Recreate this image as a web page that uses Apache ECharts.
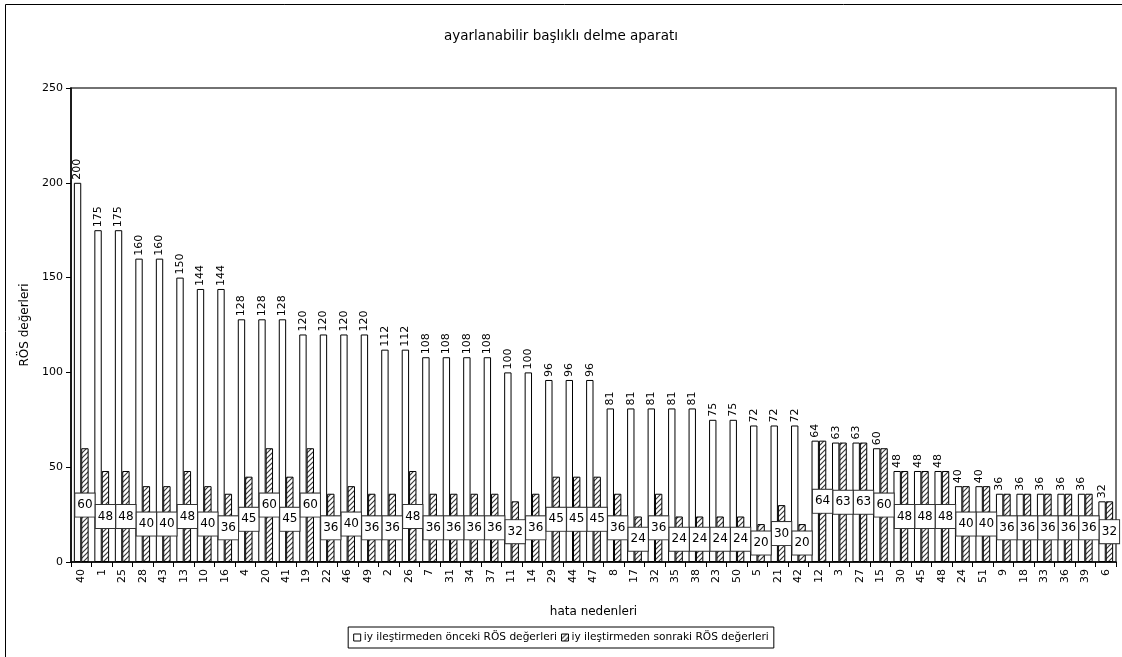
<!DOCTYPE html>
<html>
<head>
<meta charset="utf-8">
<title>ayarlanabilir başlıklı delme aparatı</title>
<script src="https://cdn.jsdelivr.net/npm/echarts@6/dist/echarts.min.js"></script>
<style>
  html, body { margin: 0; padding: 0; background: #fff; }
  #chart { width: 1122px; height: 657px; }
</style>
</head>
<body>
<div id="chart"></div>
<script>
// failure causes (hata nedenleri), sorted by RPN before improvement
const categories = ['40','1','25','28','43','13','10','16','4','20','41','19','22','46','49','2','26','7','31','34','37','11','14','29','44','47','8','17','32','35','38','23','50','5','21','42','12','3','27','15','30','45','48','24','51','9','18','33','36','39','6'];

// RÖS values before improvement
const before = [200,175,175,160,160,150,144,144,128,128,128,120,120,120,120,112,112,108,108,108,108,100,100,96,96,96,81,81,81,81,81,75,75,72,72,72,64,63,63,60,48,48,48,40,40,36,36,36,36,36,32];

// RÖS values after improvement
const after = [60,48,48,40,40,48,40,36,45,60,45,60,36,40,36,36,48,36,36,36,36,32,36,45,45,45,36,24,36,24,24,24,24,20,30,20,64,63,63,60,48,48,48,40,40,36,36,36,36,36,32];

const yTicks = { min: 0, max: 250, step: 50 };

const seriesNames = ['iy ileştirmeden önceki RÖS değerleri', 'iy ileştirmeden sonraki RÖS değerleri'];

const FONT = 'DejaVu Sans';

// diagonal hatch fill for the "after" bars
function makeHatch() {
  const s = 5;
  const c = document.createElement('canvas');
  c.width = s; c.height = s;
  const g = c.getContext('2d');
  g.fillStyle = '#fff';
  g.fillRect(0, 0, s, s);
  g.strokeStyle = '#3a3a3a';
  g.lineWidth = 1.2;
  g.beginPath();
  g.moveTo(-1, s + 1); g.lineTo(s + 1, -1);
  g.moveTo(-1, 1); g.lineTo(1, -1);
  g.moveTo(s - 1, s + 1); g.lineTo(s + 1, s - 1);
  g.stroke();
  return c;
}

const chart = echarts.init(document.getElementById('chart'), null, { renderer: 'canvas' });

chart.setOption({
  animation: false,
  backgroundColor: '#fff',
  textStyle: { fontFamily: FONT, color: '#000' },
  graphic: [{
    type: 'rect',
    shape: { x: 5.5, y: 4.5, width: 1300, height: 900 },
    style: { fill: 'none', stroke: '#000', lineWidth: 1 },
    silent: true
  }],
  title: {
    text: 'ayarlanabilir başlıklı delme aparatı',
    left: 'center',
    top: 24,
    textStyle: { fontFamily: FONT, fontSize: 13.5, fontWeight: 'normal', color: '#000' }
  },
  legend: {
    bottom: 9,
    left: 'center',
    icon: 'rect',
    itemWidth: 7,
    itemHeight: 7,
    itemGap: 4,
    padding: [5, 5],
    borderColor: '#000',
    borderWidth: 1,
    textStyle: { fontFamily: FONT, fontSize: 10.6, color: '#000', padding: [0, 0, 0, -2] },
    data: [
      { name: seriesNames[0], itemStyle: { borderColor: '#000', borderWidth: 1 } },
      { name: seriesNames[1], itemStyle: { borderColor: '#000', borderWidth: 1 } }
    ]
  },
  grid: {
    left: 71,
    right: 6,
    top: 88,
    bottom: 95,
    show: true,
    borderColor: '#444',
    borderWidth: 1.5,
    backgroundColor: 'transparent'
  },
  xAxis: {
    type: 'category',
    data: categories,
    name: 'hata nedenleri',
    nameLocation: 'middle',
    nameGap: 44,
    nameTextStyle: { fontFamily: FONT, fontSize: 12, color: '#000' },
    axisLine: { lineStyle: { color: '#000', width: 1.5 } },
    axisTick: { show: true, interval: 0, length: 5, lineStyle: { color: '#000' } },
    axisLabel: { interval: 0, rotate: 90, fontFamily: FONT, fontSize: 11, color: '#000', margin: 7 }
  },
  yAxis: {
    type: 'value',
    min: yTicks.min,
    max: yTicks.max,
    interval: yTicks.step,
    name: 'RÖS değerleri',
    nameLocation: 'middle',
    nameGap: 33,
    nameTextStyle: { fontFamily: FONT, fontSize: 12, color: '#000' },
    axisLine: { show: true, lineStyle: { color: '#000', width: 1.5 } },
    axisTick: { show: true, length: 5, lineStyle: { color: '#000' } },
    splitLine: { show: false },
    axisLabel: { fontFamily: FONT, fontSize: 11, color: '#000', margin: 8 }
  },
  series: [
    {
      name: seriesNames[0],
      type: 'bar',
      data: before,
      barGap: '0%',
      barCategoryGap: '28%',
      itemStyle: { color: '#fff', borderColor: '#000', borderWidth: 1 },
      label: {
        show: true,
        position: 'top',
        rotate: 90,
        align: 'left',
        verticalAlign: 'middle',
        distance: 3,
        fontFamily: FONT,
        fontSize: 11,
        color: '#000'
      }
    },
    {
      name: seriesNames[1],
      type: 'bar',
      data: after,
      itemStyle: {
        color: { image: makeHatch(), repeat: 'repeat' },
        borderColor: '#000',
        borderWidth: 1
      },
      label: {
        show: true,
        position: 'inside',
        fontFamily: FONT,
        fontSize: 12,
        color: '#000',
        backgroundColor: '#fff',
        borderColor: '#333',
        borderWidth: 1,
        padding: [6, 2, 5, 2]
      }
    }
  ]
});
</script>
</body>
</html>
